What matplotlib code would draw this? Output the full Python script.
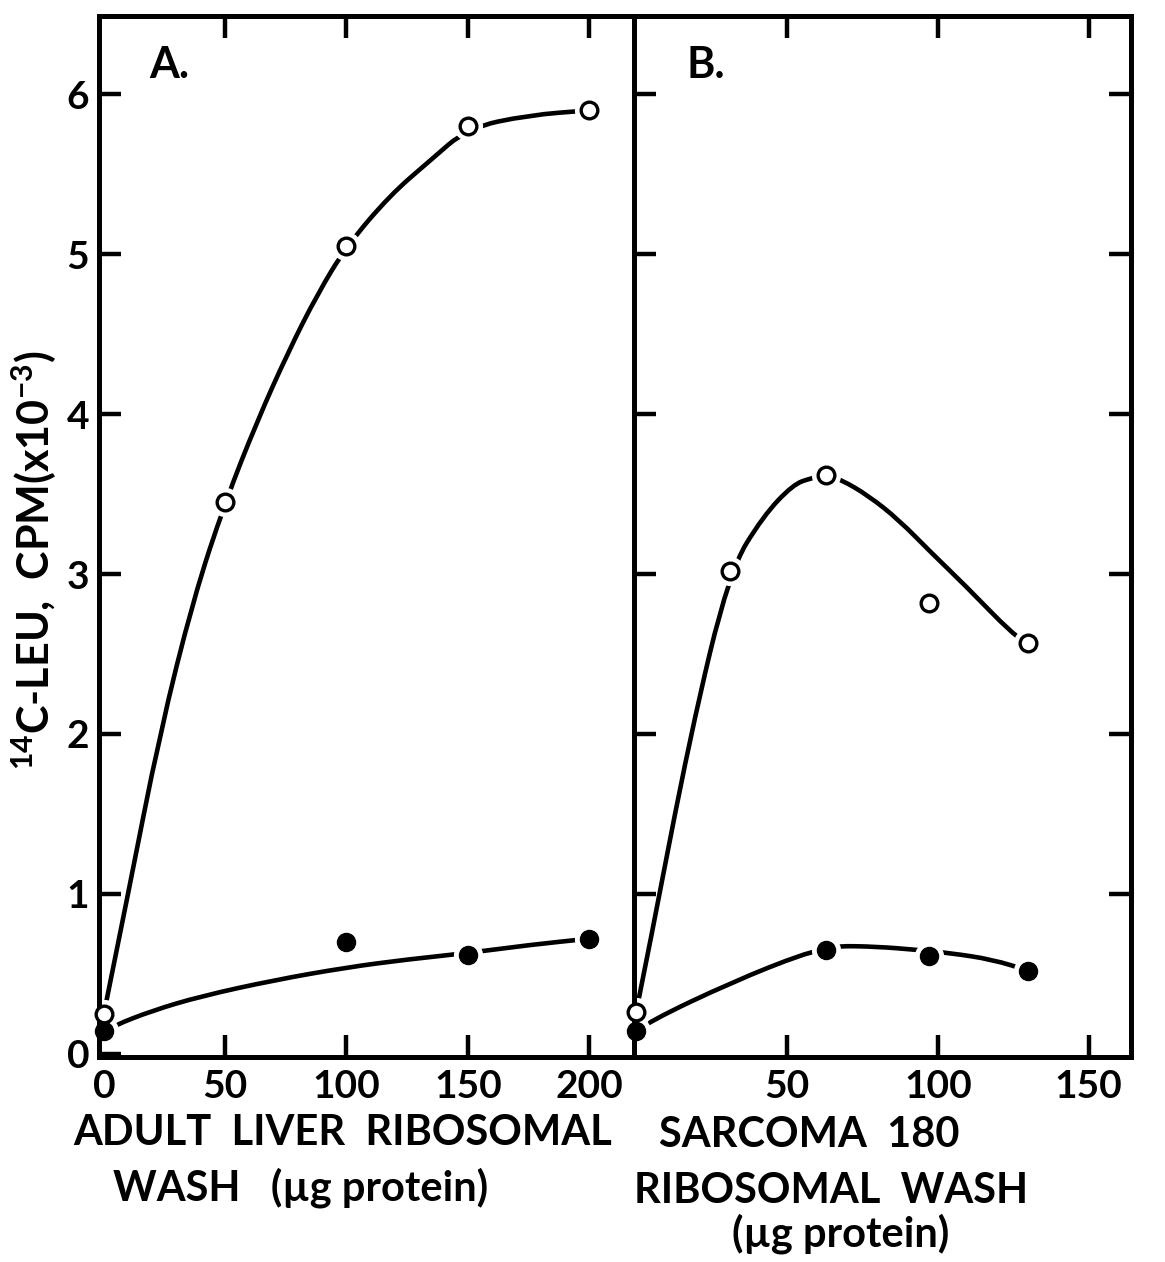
import matplotlib
matplotlib.use("Agg")
import matplotlib.pyplot as plt
from matplotlib.path import Path
from matplotlib.patches import PathPatch

plt.rcParams['font.family'] = ['Lato', 'DejaVu Sans']
plt.rcParams['font.weight'] = 'bold'
plt.rcParams['mathtext.default'] = 'regular'

# A. adult liver ribosomal wash (ug protein)
a_open_x = [0, 50, 100, 150, 200]
a_open_y = [0.25, 3.45, 5.05, 5.8, 5.9]
a_fill_x = [0, 100, 150, 200]
a_fill_y = [0.14, 0.7, 0.62, 0.72]

# hand drawn curves
a_open_curve_x = [0, 10, 23, 37, 50, 63, 76, 88, 100, 118, 134, 150, 175, 200]
a_open_curve_y = [0.25, 1.0, 2.0, 2.85, 3.45, 3.95, 4.39, 4.75, 5.05, 5.37, 5.58, 5.79, 5.87, 5.9]
a_fill_curve_x = [0, 4, 20, 40, 70, 100, 125, 150, 175, 200]
a_fill_curve_y = [0.14, 0.175, 0.27, 0.36, 0.46, 0.54, 0.59, 0.63, 0.68, 0.72]

# B. sarcoma 180 ribosomal wash (ug protein)
b_open_x = [0, 31, 63, 97, 130]
b_open_y = [0.26, 3.02, 3.62, 2.82, 2.57]
b_fill_x = [0, 63, 97, 130]
b_fill_y = [0.14, 0.65, 0.61, 0.52]

b_open_curve_x = [0, 4.5, 18, 31, 42, 52, 58, 63, 68, 77, 87, 98, 109, 125, 130]
b_open_curve_y = [0.26, 0.68, 2.0, 3.02, 3.36, 3.56, 3.6, 3.62, 3.59, 3.49, 3.34, 3.13, 2.93, 2.62, 2.57]
b_fill_curve_x = [0, 4, 32, 56, 63, 66, 80, 93, 104, 118, 130]
b_fill_curve_y = [0.14, 0.2, 0.45, 0.63, 0.65, 0.675, 0.67, 0.65, 0.63, 0.59, 0.52]

y_ticks = [0, 1, 2, 3, 4, 5, 6]

W, H = 1165, 1262
fig = plt.figure(figsize=(W / 100, H / 100), dpi=100)
bottom = 1 - 1057 / H
height = (1057 - 16) / H
ax_a = fig.add_axes([99 / W, bottom, (634 - 99) / W, height])
ax_b = fig.add_axes([634 / W, bottom, (1131 - 634) / W, height])


def smooth(xs, ys):
    # quadratic segments through the traced points, like a french curve
    verts = [(xs[0], ys[0])]
    codes = [Path.MOVETO]
    for i in range(1, len(xs) - 1):
        verts += [(xs[i], ys[i]), ((xs[i] + xs[i + 1]) / 2, (ys[i] + ys[i + 1]) / 2)]
        codes += [Path.CURVE3, Path.CURVE3]
    verts.append((xs[-1], ys[-1]))
    codes.append(Path.LINETO)
    return Path(verts, codes)


def draw(ax, cx, cy, px, py, filled):
    ax.add_patch(PathPatch(smooth(cx, cy), fill=False, lw=3.3, capstyle='round',
                           zorder=2, clip_on=False))
    ax.plot(px, py, 'o', ms=20, mfc='white', mec='white', zorder=2.2, clip_on=False)
    if filled:
        ax.plot(px, py, 'o', ms=13, mec='black', mfc='black', zorder=3, clip_on=False)
    else:
        ax.plot(px, py, 'o', ms=12, mew=2.4, mec='black', mfc='white', zorder=3, clip_on=False)


draw(ax_a, a_open_curve_x, a_open_curve_y, a_open_x, a_open_y, False)
draw(ax_a, a_fill_curve_x, a_fill_curve_y, a_fill_x, a_fill_y, True)
draw(ax_b, b_open_curve_x, b_open_curve_y, b_open_x, b_open_y, False)
draw(ax_b, b_fill_curve_x, b_fill_curve_y, b_fill_x, b_fill_y, True)

ax_a.set_xlim(-2, 218.5)
ax_b.set_xlim(-0.7, 164)
for ax in (ax_a, ax_b):
    ax.set_ylim(-0.02, 6.49)
    ax.set_yticks(y_ticks)
    for s in ax.spines.values():
        s.set_linewidth(3.6)
    ax.tick_params(direction='in', length=16, width=3.2, labelsize=28, pad=9,
                   top=True, bottom=True)

ax_a.set_xticks([0, 50, 100, 150, 200])
ax_a.xaxis.get_major_ticks()[0].tick1line.set_visible(False)
ax_a.xaxis.get_major_ticks()[0].tick2line.set_visible(False)
ax_a.yaxis.get_major_ticks()[0].tick1line.set_visible(False)
ax_a.tick_params(axis='y', left=True, right=False, pad=7)

ax_b.set_xticks([50, 100, 150])
ax_b.tick_params(axis='y', left=True, right=True, labelleft=False)
ax_b.yaxis.get_major_ticks()[0].tick1line.set_visible(False)
ax_b.yaxis.get_major_ticks()[0].tick2line.set_visible(False)

ax_a.text(0.093, 0.94, 'A.', transform=ax_a.transAxes, fontsize=31, va='baseline')
ax_b.text(0.105, 0.94, 'B.', transform=ax_b.transAxes, fontsize=31, va='baseline')

fs = 30
fig.text(343 / W, 1 - 1145 / H, 'ADULT  LIVER  RIBOSOMAL', fontsize=fs, ha='center', va='baseline')
fig.text(301 / W, 1 - 1200 / H, 'WASH   (µg protein)', fontsize=fs, ha='center', va='baseline')
fig.text(809 / W, 1 - 1147 / H, 'SARCOMA  180', fontsize=fs, ha='center', va='baseline')
fig.text(831 / W, 1 - 1203 / H, 'RIBOSOMAL  WASH', fontsize=fs, ha='center', va='baseline')
fig.text(841 / W, 1 - 1247 / H, '(µg protein)', fontsize=fs, ha='center', va='baseline')
fig.text(34 / W, 1 - 560 / H, r'$^{14}$C-LEU,  CPM(x10$^{-3}$)', fontsize=31,
         rotation=90, ha='center', va='center')

fig.savefig('out.png', dpi=100)
